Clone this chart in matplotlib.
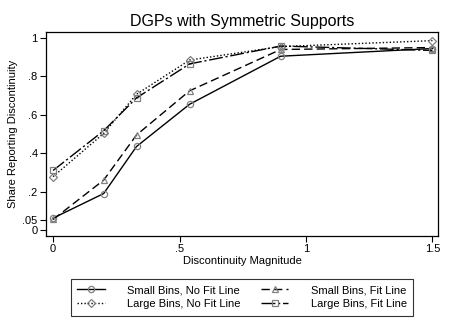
import matplotlib
matplotlib.use("Agg")
import matplotlib.pyplot as plt

plt.rcParams['font.family'] = ['Liberation Sans', 'DejaVu Sans']

magnitude = [0, 0.2, 0.33, 0.54, 0.9, 1.5]
small_nofit = [0.062, 0.19, 0.435, 0.655, 0.905, 0.945]
small_fit = [0.055, 0.26, 0.495, 0.725, 0.94, 0.95]
large_nofit = [0.278, 0.503, 0.707, 0.885, 0.955, 0.986]
large_fit = [0.31, 0.517, 0.688, 0.865, 0.958, 0.935]

labels = ["Small Bins, No Fit Line", "Small Bins, Fit Line",
          "Large Bins, No Fit Line", "Large Bins, Fit Line"]
yticks = [0, 0.05, 0.2, 0.4, 0.6, 0.8, 1]
yticklabels = ["0", ".05", ".2", ".4", ".6", ".8", "1"]
xticks = [0, 0.5, 1, 1.5]
xticklabels = ["0", ".5", "1", "1.5"]

fig = plt.figure(figsize=(4.5, 3.27), dpi=100)
ax = fig.add_axes([46/450, 1-236/327, (438-46)/450, (236-32)/327])

mk = dict(markersize=4.5, markerfacecolor='none', markeredgecolor='#808080', markeredgewidth=0.9)
l1, = ax.plot(magnitude, small_nofit, '-', color='black', lw=1.0, marker='o', **mk)
l2, = ax.plot(magnitude, small_fit, color='black', lw=1.0, dashes=(6, 3), marker='^', **mk)
l3, = ax.plot(magnitude, large_nofit, color='black', lw=1.0, linestyle=(0, (1, 1.5)), marker='D',
              markersize=4, markerfacecolor='none', markeredgecolor='#808080', markeredgewidth=0.9)
l4, = ax.plot(magnitude, large_fit, color='black', lw=1.0, dashes=(10, 2, 1.5, 2), marker='s', **mk)

ax.set_xlim(-0.028, 1.522)
ax.set_ylim(-0.031, 1.031)
ax.set_xticks(xticks)
ax.set_xticklabels(xticklabels)
ax.set_yticks(yticks)
ax.set_yticklabels(yticklabels)
ax.tick_params(labelsize=8, length=4, width=0.8, direction='out', pad=2)
ax.set_xlabel("Discontinuity Magnitude", fontsize=8, labelpad=1)
ax.set_ylabel("Share Reporting Discontinuity", fontsize=8, labelpad=3)
ax.set_title("DGPs with Symmetric Supports", fontsize=11.5, pad=4)
for s in ax.spines.values():
    s.set_linewidth(0.9)

leg = fig.legend([l1, l3, l2, l4], [labels[0], labels[2], labels[1], labels[3]],
                 loc='upper center', bbox_to_anchor=(242/450, 1-273/327),
                 ncol=2, fontsize=8, frameon=True, fancybox=False, edgecolor='black',
                 handlelength=2.5, columnspacing=1.8, borderpad=0.6, labelspacing=0.35,
                 handletextpad=2.0, numpoints=1)
leg.get_frame().set_linewidth(0.8)

fig.savefig("out.png", dpi=100)
